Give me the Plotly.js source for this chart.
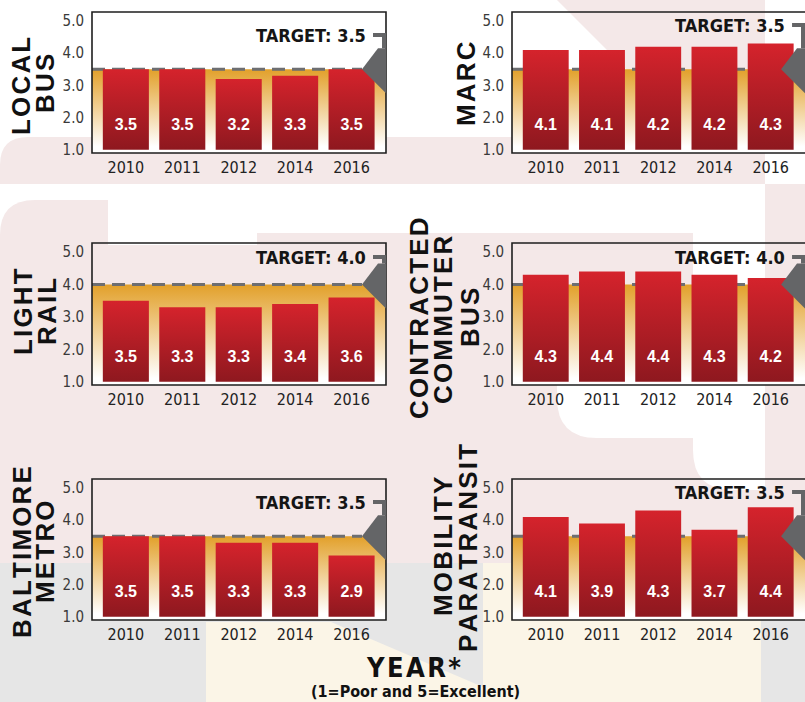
<!DOCTYPE html>
<html><head><meta charset="utf-8">
<script src="https://cdn.plot.ly/plotly-3.0.1.min.js"></script>
<style>html,body{margin:0;padding:0;background:#fff}#chart{width:805px;height:702px}</style>
</head><body><div id="chart"></div>
<script>
// ---------------- DATA ----------------
const years = ['2010', '2011', '2012', '2014', '2016'];
const localBus       = [3.5, 3.5, 3.2, 3.3, 3.5];
const marc           = [4.1, 4.1, 4.2, 4.2, 4.3];
const lightRail      = [3.5, 3.3, 3.3, 3.4, 3.6];
const commuterBus    = [4.3, 4.4, 4.4, 4.3, 4.2];
const baltimoreMetro = [3.5, 3.5, 3.3, 3.3, 2.9];
const paratransit    = [4.1, 3.9, 4.3, 3.7, 4.4];
const targetValues   = [3.5, 3.5, 4.0, 4.0, 3.5, 3.5];
const panelNames = [['LOCAL', 'BUS'], ['MARC'], ['LIGHT', 'RAIL'],
                    ['CONTRACTED', 'COMMUTER', 'BUS'], ['BALTIMORE', 'METRO'], ['MOBILITY', 'PARATRANSIT']];
const yTicks = [1, 2, 3, 4, 5];
const titleText = 'YEAR*';
const subtitleText = '(1=Poor and 5=Excellent)';
const series = [localBus, marc, lightRail, commuterBus, baltimoreMetro, paratransit];

// ---------------- STYLE / GEOMETRY ----------------
const W = 805, H = 702;
const colsPx = [[92, 386], [512, 805]];
const rowsPx = [[12, 153], [243, 385], [479, 620]];
const XR = [-0.6, 4.61];
const YR = [0.9, 5.28];
const BAR_W = 0.816;
const BASE = 1.0;
const LABEL_Y = 1.74;
const labelTopPx = [23, 13, 14, 14, 23, 13];
const namePos = [[[21, 86], [45, 84]], [[466, 84]], [[23, 312], [47, 312]],
                 [[419, 318], [443, 320], [470, 318]], [[22, 552], [45, 552]], [[443, 547], [468, 548]]];
const COND = "'Liberation Sans Narrow', 'DejaVu Sans Condensed', 'Arial Narrow', sans-serif";
const SANS = "'Liberation Sans', Arial, sans-serif";
const PINK = '#f4e8e8', GREY_BG = '#e6e6e6', CREAM = '#fbf5e7';
const MARK = '#646567';

const px = (x) => x / W, py = (y) => 1 - y / H;
function P(cmds) {
  return cmds.map(c => {
    const k = c[0], a = c.slice(1);
    let out = k;
    for (let i = 0; i < a.length; i += 2) out += ' ' + px(a[i]).toFixed(5) + ',' + py(a[i + 1]).toFixed(5);
    return out;
  }).join(' ');
}
function bg(path, color) {
  return {type: 'path', xref: 'paper', yref: 'paper', layer: 'below', path: path,
          fillcolor: color, line: {width: 0}};
}
const spaced = (s, sep) => s.split('').join(sep);

const shapes = [
  bg(P([['M', 0, 165], ['Q', 0, 137, 28, 137], ['L', 765, 137], ['L', 765, 184], ['L', 0, 184], ['Z']]), PINK),
  bg(P([['M', 557, 0], ['L', 765, 0], ['L', 765, 140], ['L', 697, 140], ['Z']]), PINK),
  bg(P([['M', 765, 184], ['L', 805, 184], ['L', 805, 563], ['L', 765, 563], ['Z']]), PINK),
  bg(P([['M', 0, 235], ['Q', 0, 200, 35, 200], ['L', 108, 200], ['L', 108, 563], ['L', 0, 563], ['Z']]), PINK),
  bg(P([['M', 108, 245], ['L', 257, 245], ['L', 257, 233], ['L', 765, 233], ['L', 765, 563], ['L', 108, 563], ['Z']]), PINK),
  bg(P([['M', 693, 184], ['L', 765, 184], ['L', 765, 490], ['L', 733, 490], ['Q', 693, 490, 693, 450], ['Z']]), '#ffffff'),
  bg(P([['M', 557, 300], ['L', 693, 300], ['L', 693, 438], ['L', 597, 438], ['Q', 557, 438, 557, 398], ['Z']]), '#ffffff'),
  bg(P([['M', 0, 563], ['L', 805, 563], ['L', 805, 702], ['L', 0, 702], ['Z']]), GREY_BG),
  bg(P([['M', 206, 622], ['L', 331, 622], ['L', 483, 687], ['L', 483, 563], ['L', 761, 563], ['L', 761, 702], ['L', 206, 702], ['Z']]), CREAM)
];

const traces = [];
const annotations = [];
const layout = {
  width: W, height: H, margin: {l: 0, r: 0, t: 0, b: 0},
  paper_bgcolor: '#ffffff', plot_bgcolor: '#ffffff',
  showlegend: false, hovermode: false, shapes: shapes, annotations: annotations
};

series.forEach((vals, i) => {
  const col = i % 2, row = Math.floor(i / 2);
  const s = i === 0 ? '' : String(i + 1);
  const xa = 'x' + s, ya = 'y' + s;
  const t = targetValues[i];
  const [x0, x1] = colsPx[col], [y0, y1] = rowsPx[row];
  const pw = 294, ph = y1 - y0;

  layout['xaxis' + s] = {
    domain: [px(x0), px(x1)], anchor: ya, range: XR, type: 'linear',
    tickvals: years.map((_, j) => j), ticktext: years,
    showgrid: false, zeroline: false, showline: false, ticks: '',
    ticklabelstandoff: 3,
    tickfont: {family: COND, size: 16, color: '#222'}, fixedrange: true
  };
  layout['yaxis' + s] = {
    domain: [py(y1), py(y0)], anchor: xa, range: YR,
    tickvals: yTicks, tickformat: '.1f',
    showgrid: false, zeroline: false, showline: false, ticks: '',
    ticklabelstandoff: 7,
    tickfont: {family: COND, size: 15, color: '#3a3a3a'}, fixedrange: true
  };

  // orange target band
  traces.push({type: 'scatter', xaxis: xa, yaxis: ya, x: [XR[0], XR[1]], y: [t, t],
    mode: 'lines', line: {width: 0}, fill: 'tozeroy',
    fillgradient: {type: 'vertical', start: 1.1, stop: t,
      colorscale: [[0, 'rgba(255,255,255,1)'], [1, 'rgba(226,160,42,1)']]},
    hoverinfo: 'skip'});
  // dashed target line
  const tipX = XR[0] + (XR[1] - XR[0]) * 270 / pw;
  traces.push({type: 'scatter', xaxis: xa, yaxis: ya, x: [XR[0], tipX], y: [t, t],
    mode: 'lines', line: {color: '#6d6e71', width: 3, dash: '13px,7px'}, hoverinfo: 'skip'});
  // bars (gradient filled rectangles through the axes' scales)
  vals.forEach((v, j) => {
    const a = j - BAR_W / 2, b = j + BAR_W / 2;
    traces.push({type: 'scatter', xaxis: xa, yaxis: ya,
      x: [a, a, b, b, a], y: [BASE, v, v, BASE, BASE],
      mode: 'lines', line: {width: 0}, fill: 'toself',
      fillgradient: {type: 'vertical', start: BASE, stop: v,
        colorscale: [[0, 'rgba(142,24,31,1)'], [1, 'rgba(213,35,44,1)']]},
      hoverinfo: 'skip'});
  });
  // value labels
  traces.push({type: 'scatter', xaxis: xa, yaxis: ya, mode: 'text',
    x: years.map((_, j) => j), y: years.map(() => LABEL_Y),
    text: vals.map(v => v.toFixed(1)),
    textfont: {family: SANS, size: 16, color: '#ffffff', weight: 'bold'},
    hoverinfo: 'skip'});

  // frame
  const fr = col === 0 ? 'M 1,0 L 0,0 L 0,1 L 1,1 Z' : 'M 1.01,0 L 0,0 L 0,1 L 1.01,1';
  shapes.push({type: 'path', xref: xa + ' domain', yref: ya + ' domain', path: fr,
    line: {color: '#1e1e1e', width: 1.6}, layer: 'above'});

  // target marker (bracket + triangle)
  const yd = (t - YR[0]) / (YR[1] - YR[0]);
  const ly = 1 - labelTopPx[i] / ph;
  const triTop = yd + 21 / ph, triBot = yd - 24 / ph;
  const X = (p) => (p / pw).toFixed(4);
  shapes.push({type: 'path', xref: xa + ' domain', yref: ya + ' domain', layer: 'above',
    path: `M ${X(281)},${ly} L ${X(292)},${ly} L ${X(292)},${triTop}`,
    line: {color: MARK, width: 4}});
  shapes.push({type: 'path', xref: xa + ' domain', yref: ya + ' domain', layer: 'above',
    path: `M ${X(270)},${yd} L ${X(286)},${triTop} L ${X(294)},${triTop} L ${X(294)},${triBot} Z`,
    fillcolor: MARK, line: {width: 0}});
  annotations.push({xref: xa + ' domain', yref: ya + ' domain', x: 276 / pw, y: ly,
    xanchor: 'right', yanchor: 'middle', showarrow: false,
    text: 'TARGET: ' + t.toFixed(1),
    font: {family: COND, size: 18, color: '#151515', weight: 'bold'}});

  // panel name (rotated)
  panelNames[i].forEach((nm, k) => {
    const [cx, cy] = namePos[i][k];
    annotations.push({xref: 'paper', yref: 'paper', x: px(cx), y: py(cy),
      xanchor: 'center', yanchor: 'middle', showarrow: false, textangle: -90,
      text: spaced(nm, '\u200A'),
      font: {family: SANS, size: 26, color: '#111', weight: 'bold'}});
  });
});

annotations.push({xref: 'paper', yref: 'paper', x: px(414), y: py(667), xanchor: 'center', yanchor: 'middle',
  showarrow: false, text: spaced(titleText, '\u200A'),
  font: {family: COND, size: 27, color: '#111', weight: 'bold'}});
annotations.push({xref: 'paper', yref: 'paper', x: px(415), y: py(691), xanchor: 'center', yanchor: 'middle',
  showarrow: false, text: subtitleText,
  font: {family: COND, size: 16, color: '#111', weight: 'bold'}});

Plotly.newPlot('chart', traces, layout, {staticPlot: true, displayModeBar: false});
</script>
</body></html>
